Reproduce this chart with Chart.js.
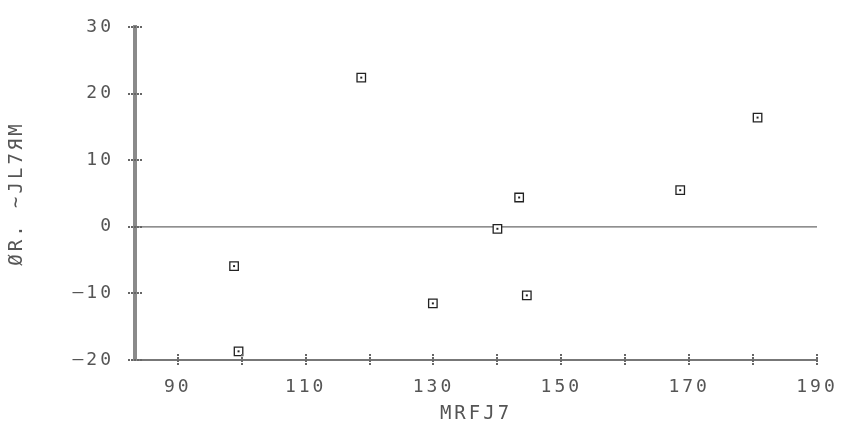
<!DOCTYPE html>
<html>
<head>
<meta charset="utf-8">
<script src="https://cdn.jsdelivr.net/npm/chart.js@4"></script>
<style>
  html, body { margin: 0; padding: 0; background: #fff; }
  #wrap { width: 851px; height: 440px; }
</style>
</head>
<body>
<div id="wrap"><canvas id="chart" width="851" height="440"></canvas></div>
<script>
/* ==============================
   Data
============================== */
const xValues = [98.8, 99.5, 118.7, 129.9, 140.0, 143.4, 144.6, 168.6, 180.7];
const yValues = [-5.9, -18.7, 22.4, -11.5, -0.3, 4.4, -10.3, 5.5, 16.4];
const xTicks = [90, 100, 110, 120, 130, 140, 150, 160, 170, 180, 190];
const xLabelTicks = [90, 110, 130, 150, 170, 190];
const yTicks = [-20, -10, 0, 10, 20, 30];
const xTitle = 'MRFJ7';
const yTitle = 'ØR. ~JL7ЯM';

const points = xValues.map((x, i) => ({ x, y: yValues[i] }));
const zeroLine = [{ x: 83.3, y: 0 }, { x: 190.5, y: 0 }];

const tickFont = { family: 'DejaVu Sans Mono', size: 18 };
const titleFont = { family: 'DejaVu Sans Mono', size: 19 };

/* ==============================
   Plotter look: letter spacing + crossing tick marks
============================== */
const plotterPlugin = {
    id: 'plotter',
    beforeLayout(chart) { chart.ctx.letterSpacing = '3px'; },
    beforeDraw(chart) { chart.ctx.letterSpacing = '3px'; },
    afterDatasetsDraw(chart) {
        const ctx = chart.ctx;
        const xs = chart.scales.x, ys = chart.scales.y;
        ctx.save();
        ctx.strokeStyle = '#666';
        ctx.lineWidth = 2;
        ctx.setLineDash([2, 1]);
        xTicks.forEach(v => {
            const px = Math.round(xs.getPixelForValue(v));
            ctx.beginPath();
            ctx.moveTo(px, ys.bottom - 6);
            ctx.lineTo(px, ys.bottom + 6);
            ctx.stroke();
        });
        yTicks.forEach(v => {
            const py = Math.round(ys.getPixelForValue(v));
            ctx.beginPath();
            ctx.moveTo(xs.left - 7, py);
            ctx.lineTo(xs.left + 8, py);
            ctx.stroke();
        });
        ctx.restore();
    }
};

/* ==============================
   Chart
============================== */
new Chart(document.getElementById('chart'), {
    type: 'scatter',
    data: {
        datasets: [
            {
                label: 'zero',
                data: zeroLine,
                order: 3,
                showLine: true,
                borderColor: '#6a6a6a',
                borderWidth: 1.2,
                pointRadius: 0
            },
            {
                label: 'points',
                data: points,
                order: 2,
                pointStyle: 'rect',
                pointRadius: 6,
                borderColor: '#222',
                borderWidth: 1.3,
                backgroundColor: '#fff'
            },
            {
                label: 'centers',
                data: points,
                order: 1,
                pointStyle: 'rect',
                pointRadius: 1.4,
                borderWidth: 0,
                backgroundColor: '#222'
            }
        ]
    },
    options: {
        responsive: false,
        animation: false,
        layout: { padding: { top: 27, right: 34, bottom: 15, left: 0 } },
        plugins: { legend: { display: false }, tooltip: { enabled: false } },
        scales: {
            x: {
                type: 'linear',
                min: 83.3,
                max: 190,
                afterBuildTicks: s => { s.ticks = xTicks.map(v => ({ value: v })); },
                afterFit: s => { s.height = 65; },
                ticks: {
                    font: tickFont,
                    color: '#555',
                    padding: 9,
                    maxRotation: 0,
                    autoSkip: false,
                    callback: v => xLabelTicks.includes(v) ? String(v) : ''
                },
                grid: { display: false },
                border: { display: true, color: '#777', width: 2 },
                title: {
                    display: true,
                    text: xTitle,
                    font: titleFont,
                    color: '#555',
                    padding: { top: 0, bottom: 0 }
                }
            },
            y: {
                type: 'linear',
                min: -20,
                max: 30,
                afterBuildTicks: s => { s.ticks = yTicks.map(v => ({ value: v })); },
                afterFit: s => { s.width = 135; },
                ticks: {
                    font: tickFont,
                    color: '#555',
                    padding: 13,
                    callback: v => v < 0 ? '\u2014' + Math.abs(v) : String(v)
                },
                grid: { display: false },
                border: { display: true, color: '#8a8a8a', width: 4 },
                title: {
                    display: true,
                    text: yTitle,
                    font: titleFont,
                    color: '#555',
                    padding: { top: 6, bottom: 0 }
                }
            }
        }
    },
    plugins: [plotterPlugin]
});
</script>
</body>
</html>
